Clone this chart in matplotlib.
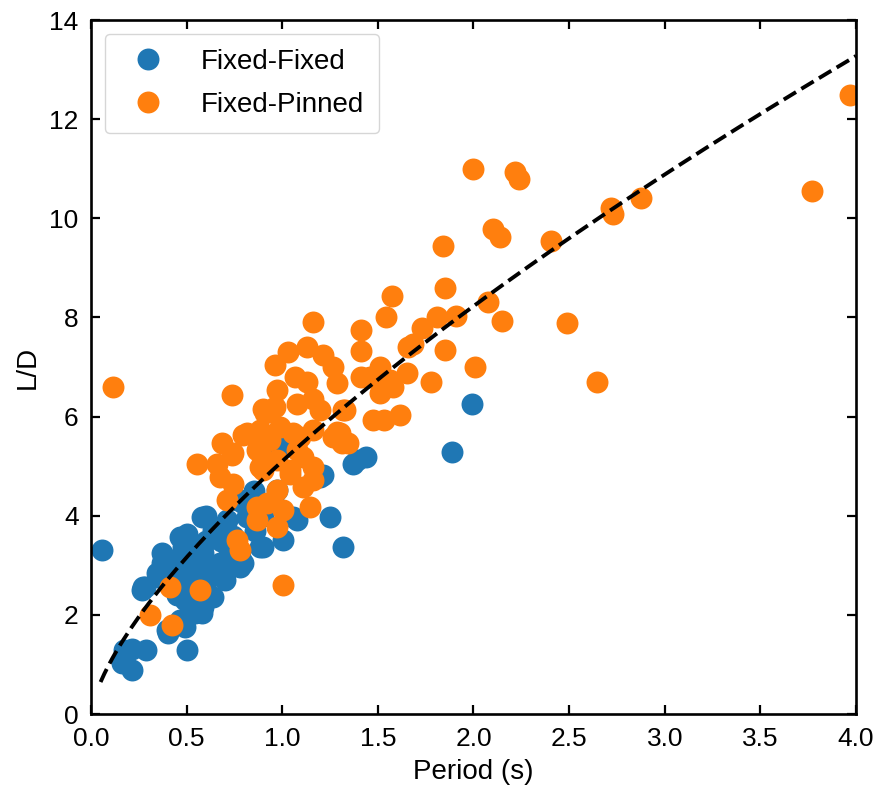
import numpy as np
import matplotlib
matplotlib.use("Agg")
import matplotlib.pyplot as plt

plt.rcParams['font.family'] = ['Liberation Sans', 'DejaVu Sans']

# Fixed-Fixed (period s, L/D)
ff_period = [0.055, 0.16, 0.17, 0.213, 0.213, 0.29, 0.50, 0.282, 0.267, 0.352,
             0.37, 0.37, 0.343, 0.273, 0.404, 0.396, 0.465, 0.49, 0.49, 0.544,
             0.579, 0.587, 0.64, 0.413, 0.465, 0.517, 0.49, 0.605, 0.648, 0.70,
             0.675, 0.675, 0.779, 0.78, 0.483, 0.50, 0.465, 0.587, 0.64, 0.675,
             0.579, 0.71, 0.762, 0.796, 0.78, 0.814, 0.884, 0.90, 0.796, 1.005,
             1.058, 1.075, 1.25, 1.32, 1.197, 1.215, 1.39, 1.44, 1.37, 1.02,
             0.99, 0.97, 1.99, 1.887, 0.42, 0.55, 0.60, 0.55, 0.62, 0.72,
             0.68, 0.50, 0.45, 0.56, 0.74, 0.86, 0.90, 0.95, 0.60, 0.85,
             0.53, 0.44]
ff_ld = [3.30, 1.02, 1.29, 0.89, 1.32, 1.29, 1.29, 2.57, 2.50, 2.77,
         3.04, 3.24, 2.84, 2.57, 1.63, 1.69, 1.90, 1.76, 2.30, 2.03,
         2.03, 2.16, 2.36, 2.97, 2.70, 2.97, 2.90, 2.70, 2.84, 2.70,
         2.84, 3.04, 2.97, 3.17, 3.37, 3.64, 3.57, 3.24, 3.71, 3.71,
         3.98, 3.91, 4.31, 4.25, 4.31, 3.98, 3.37, 3.37, 3.04, 3.51,
         3.98, 3.91, 3.98, 3.37, 4.78, 4.82, 5.12, 5.19, 5.05, 5.46,
         5.39, 4.52, 6.26, 5.28, 3.10, 3.30, 3.50, 2.60, 3.00, 3.30,
         3.50, 3.10, 2.40, 2.80, 3.60, 3.70, 4.00, 4.30, 4.00, 4.50,
         2.45, 2.90]

# Fixed-Pinned (period s, L/D)
fp_period = [0.115, 2.00, 2.215, 2.24, 1.84, 2.10, 2.14, 2.405, 2.72, 2.73,
             2.875, 3.77, 3.97, 2.49, 2.645, 1.85, 2.077, 2.15, 1.91, 2.01,
             1.81, 1.73, 1.685, 1.85, 1.78, 1.66, 1.572, 1.543, 1.41, 1.41,
             1.41, 1.46, 1.51, 1.563, 1.65, 1.51, 1.58, 1.476, 1.53, 1.616,
             1.32, 1.30, 1.162, 0.962, 1.03, 1.128, 1.215, 1.267, 1.285, 1.067,
             1.128, 1.162, 1.075, 1.197, 1.328, 0.962, 0.97, 0.988, 1.058, 1.162,
             1.285, 1.31, 1.11, 1.162, 1.162, 1.11, 1.04, 0.97, 0.735, 0.90,
             0.814, 0.884, 0.683, 0.735, 0.553, 0.657, 0.866, 0.936, 1.075, 0.884,
             0.796, 1.093, 0.744, 0.892, 0.90, 1.04, 0.744, 0.97, 1.145, 0.866,
             0.919, 1.005, 0.866, 0.97, 0.762, 0.779, 1.005, 0.675, 0.71, 0.413,
             0.57, 0.308, 0.422, 0.91, 1.267, 1.343]
fp_ld = [6.59, 11.00, 10.93, 10.79, 9.44, 9.79, 9.62, 9.54, 10.20, 10.08,
         10.40, 10.56, 12.48, 7.88, 6.69, 8.60, 8.31, 7.93, 8.02, 7.00,
         8.01, 7.78, 7.46, 7.35, 6.70, 7.40, 8.44, 8.00, 7.74, 7.33,
         6.80, 6.80, 7.00, 6.73, 6.87, 6.47, 6.60, 5.93, 5.93, 6.03,
         6.13, 5.66, 7.91, 7.04, 7.30, 7.41, 7.24, 7.00, 6.67, 6.80,
         6.70, 6.36, 6.26, 6.13, 6.13, 6.20, 6.53, 5.79, 5.66, 5.73,
         5.69, 5.46, 5.19, 4.99, 4.72, 4.58, 4.85, 5.12, 6.43, 6.16,
         5.66, 5.73, 5.46, 5.22, 5.05, 5.05, 5.32, 5.52, 5.32, 4.99,
         5.62, 5.59, 5.26, 5.19, 4.92, 4.92, 4.65, 4.52, 4.18, 4.18,
         4.25, 4.11, 3.91, 3.78, 3.51, 3.31, 2.60, 4.78, 4.31, 2.57,
         2.50, 2.00, 1.79, 6.07, 5.59, 5.46]

# power-law fit L/D = a * T^b
fit_a, fit_b = 5.1, 0.69
fit_t = np.linspace(0.05, 4.0, 200)

fig = plt.figure(figsize=(8.81, 7.97), dpi=100)
ax = fig.add_axes([0.1033, 0.1041, 0.8683, 0.8708])

ax.plot(ff_period, ff_ld, 'o', color='#1f77b4', markersize=15.8,
        markeredgewidth=0, label='Fixed-Fixed')
ax.plot(fp_period, fp_ld, 'o', color='#ff7f0e', markersize=15.8,
        markeredgewidth=0, label='Fixed-Pinned')
ax.plot(fit_t, fit_a * fit_t ** fit_b, '--', color='black', linewidth=2.8)

ax.set_xlim(0, 4.0)
ax.set_ylim(0, 14)
ax.set_xticks(np.arange(0, 4.01, 0.5))
ax.set_yticks(np.arange(0, 15, 2))
ax.set_xlabel('Period (s)', fontsize=20, labelpad=6)
ax.set_ylabel('L/D', fontsize=20, labelpad=6)
ax.tick_params(direction='in', top=True, right=True, length=6.5, width=1.6,
               labelsize=19, pad=9)
for sp in ax.spines.values():
    sp.set_linewidth(1.9)

ax.legend(loc='upper left', fontsize=20, handletextpad=0.9, labelspacing=0.6,
          borderpad=0.55)

fig.savefig('out.png', dpi=100)
